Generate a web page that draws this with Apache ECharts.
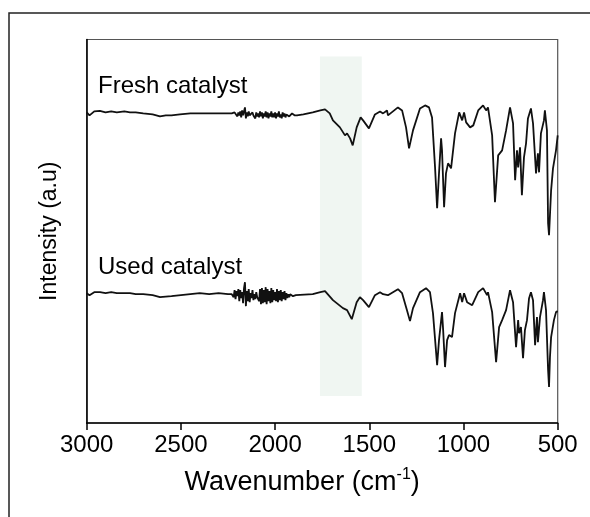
<!DOCTYPE html>
<html>
<head>
<meta charset="utf-8">
<script src="https://cdn.jsdelivr.net/npm/echarts@6/dist/echarts.min.js"></script>
<style>html,body{margin:0;padding:0;background:#fff}#c{width:590px;height:517px}</style>
</head>
<body>
<div id="c"></div>
<script>
// Wavenumber ticks
var xTicks = [3000, 2500, 2000, 1500, 1000, 500];
var shadeRange = [1762, 1540];
var shadeY = [27, 367];

// Baseline (3000-2250) and band region (1884-500)
var freshWnA = [3000,2985,2960,2930,2900,2870,2840,2800,2770,2740,2700,2650,2611,2580,2550,2505,2450,2398,2350,2300,2250];
var freshValA = [311,308,312,312.5,311,312,311,312,311,311,310,309,307,308,308,309,310,310,310,310,310];
// noisy region 2230 -> 1890, every 5 cm-1
var noiseStart = 2230, noiseStep = 5;
var freshNoise = [310,312,308,311,309,313,307,311,308,312,306,313,308,310,316,305,311,307,312,308,310,306,311,308,309,305,311,307,310,306,312,307,311,305,310,307,312,306,311,305,310,307,312,306,310,306,311,305,310,307,312,306,309,305,311,307,310,306,309,307,310,307,309,308,310,308,309,308,309];
var freshWnB = [1884,1850,1800,1760,1735,1710,1693,1656,1629,1618,1602,1588,1567,1546,1533,1502,1470,1443,1427,1406,1401,1348,1326,1305,1289,1268,1231,1204,1183,1167,1151,1140,1130,1119,1114,1103,1093,1082,1066,1045,1023,1007,997,986,965,948,922,896,880,870,848,833,816,795,774,753,737,726,716,710,700,690,679,668,658,642,631,615,605,599,589,573,568,557,551,546,535,525,509,500];
var freshValB = [308,309,311,313,314,310,303,296,288,290,285,278,296,306,303,295,309,312,310,313,308,316,313,296,275,293,315,318,316,306,256,215,250,285,273,216,250,260,255,290,311,303,311,301,296,298,313,318,313,316,288,221,268,273,293,316,300,243,273,256,276,228,266,280,305,315,300,250,270,251,290,303,313,293,200,188,233,255,273,288];

var usedWnA = [3000,2985,2960,2929,2900,2870,2840,2800,2770,2740,2700,2650,2611,2550,2500,2450,2400,2350,2300,2250];
var usedValA = [130,128,131,131,130,131,130,130,130,129,129,128,126,127,128,129,130,129,130,129];
var usedNoise = [129,131,126,133,124,132,127,134,122,133,125,131,120,135,141,117,132,122,134,121,130,125,133,123,129,124,131,126,128,122,134,119,135,120,133,121,136,119,134,122,132,120,135,121,133,123,131,122,134,121,132,123,133,122,131,124,132,123,130,125,129,126,129,127,128,127,128,127,128];
var usedWnB = [1884,1800,1760,1735,1693,1640,1618,1613,1593,1567,1550,1533,1502,1470,1443,1427,1401,1348,1326,1300,1284,1268,1231,1199,1178,1162,1140,1130,1114,1108,1098,1087,1077,1061,1045,1018,1007,997,981,954,922,896,875,870,848,827,811,795,774,753,737,721,710,705,695,684,674,663,652,642,631,620,610,605,594,578,573,562,551,546,541,535,520,509,500];
var usedValB = [126,129,131,132,123,115,113,115,104,121,126,123,116,128,131,129,128,134,130,113,102,115,131,135,131,110,58,83,111,93,56,83,88,86,110,130,121,130,121,118,131,135,128,131,111,61,96,103,113,133,121,76,103,90,96,65,93,103,125,131,123,78,106,81,106,123,131,113,53,36,66,86,103,111,112];

function zip(a, b) { return a.map(function (v, i) { return [v, b[i]]; }); }
function noisePts(vals) { return vals.map(function (v, i) { return [noiseStart - noiseStep * i, v]; }); }

var freshData = zip(freshWnA, freshValA).concat(noisePts(freshNoise), zip(freshWnB, freshValB));
var usedData = zip(usedWnA, usedValA).concat(noisePts(usedNoise), zip(usedWnB, usedValB));

var chart = echarts.init(document.getElementById('c'), null, {renderer: 'canvas'});
var FONT = 'Arial, "Liberation Sans", sans-serif';
chart.setOption({
  animation: false,
  backgroundColor: '#fff',
  grid: {left: 86.7, top: 39.5, right: 32.3, bottom: 94, show: true, borderColor: '#555', borderWidth: 1.2, backgroundColor: 'transparent'},
  xAxis: {
    type: 'value', min: 500, max: 3000, interval: 500, inverse: true,
    axisLine: {show: true, lineStyle: {color: '#000', width: 1.5}},
    axisTick: {show: true, inside: false, length: 7, lineStyle: {color: '#000', width: 1.5}},
    splitLine: {show: false},
    axisLabel: {color: '#000', fontSize: 24, fontFamily: FONT, margin: 10, formatter: function (v) { return String(v); }},
    name: '{a|Wavenumber (cm}{s|-1}{a|)}',
    nameLocation: 'middle', nameGap: 44,
    nameTextStyle: {
      padding: [0, 40, 0, 0],
      rich: {
        a: {fontSize: 27, fontFamily: FONT, color: '#000', lineHeight: 32},
        s: {fontSize: 16, fontFamily: FONT, color: '#000', lineHeight: 32, verticalAlign: 'top', padding: [0, 0, 10, 0]}
      }
    }
  },
  yAxis: {
    type: 'value', min: 0, max: 384,
    axisLine: {show: true, lineStyle: {color: '#000', width: 1.5}},
    axisTick: {show: false}, axisLabel: {show: false}, splitLine: {show: false},
    name: 'Intensity (a.u)', nameLocation: 'middle', nameGap: 26,
    nameTextStyle: {fontSize: 23, fontFamily: FONT, color: '#000'}
  },
  series: [
    {
      type: 'line', data: freshData, showSymbol: false, symbol: 'none',
      lineStyle: {color: '#111', width: 1.8}, z: 3,
      markArea: {
        silent: true,
        itemStyle: {color: '#f0f6f2'},
        data: [[{coord: [shadeRange[0], shadeY[0]]}, {coord: [shadeRange[1], shadeY[1]]}]],
        z: 1
      }
    },
    {
      type: 'line', data: usedData, showSymbol: false, symbol: 'none',
      lineStyle: {color: '#111', width: 1.8}, z: 3
    }
  ],
  graphic: [
    {type: 'rect', shape: {x: 9, y: 13, width: 600, height: 530}, style: {fill: 'none', stroke: '#222', lineWidth: 1.5}, silent: true},
    {type: 'text', left: 98, top: 74, style: {text: 'Fresh catalyst', font: '24px ' + FONT, fill: '#000'}},
    {type: 'text', left: 98, top: 255, style: {text: 'Used catalyst', font: '24px ' + FONT, fill: '#000'}}
  ]
});
</script>
</body>
</html>
